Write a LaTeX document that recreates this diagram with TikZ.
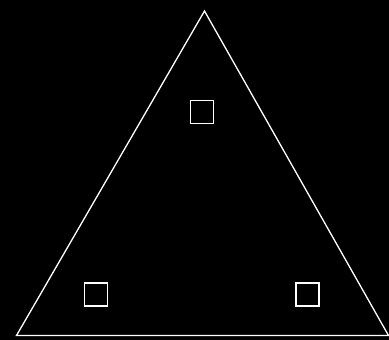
\documentclass[tikz,border=0pt]{standalone}
\usepackage{tikz}

\begin{document}
\begin{tikzpicture}[
    x=1pt, y=-1pt,
    edge/.style={draw=white, line width=1.3pt, line join=miter},
    box/.style={draw=white, line width=1.3pt, minimum size=23pt, inner sep=0pt},
]

% Background
\fill[black] (0,0) rectangle (389,340);
\useasboundingbox (0,0) rectangle (389,340);

% Triangle corners
\coordinate (top) at (204.5, 11);
\coordinate (left) at (16.5, 335.5);
\coordinate (right) at (388.5, 335.5);
\draw[edge] (top) -- (left) -- (right) -- cycle;

% Squares
\node[box] (boxtop) at (202, 112) {};
\node[box] (boxleft) at (96, 294.5) {};
\node[box] (boxright) at (307.5, 294.5) {};

\end{tikzpicture}
\end{document}
